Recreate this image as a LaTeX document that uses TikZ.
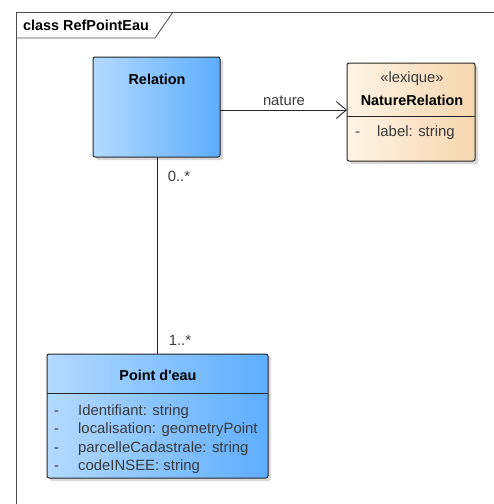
\documentclass[tikz,border=0pt]{standalone}
\usepackage{fontspec}
\setmainfont{Liberation Sans}
\usetikzlibrary{arrows.meta,shadows}
\definecolor{blueA}{HTML}{B3DAFF}
\definecolor{blueB}{HTML}{5EADFF}
\definecolor{beigeA}{HTML}{FEF4E6}
\definecolor{beigeB}{HTML}{F5D6AE}
\definecolor{txt}{HTML}{3A3A3A}
\tikzset{
  classbox/.style={draw=black!85, line width=1pt, rounded corners=2pt,
    drop shadow={shadow xshift=3pt, shadow yshift=-3pt, fill=black!25, opacity=0.6}},
  bluefill/.style={left color=blueA, right color=blueB},
  beigefill/.style={left color=beigeA, right color=beigeB},
  lbl/.style={font=\fontsize{14.8}{17}\selectfont, text=txt, inner sep=0pt},
  ttl/.style={font=\fontsize{14.4}{17}\selectfont\bfseries, inner sep=0pt},
  attr/.style={font=\fontsize{14.9}{17}\selectfont, text=txt, inner sep=0pt, anchor=base west},
  conn/.style={draw=black!85, line width=0.9pt},
}
\begin{document}
\begin{tikzpicture}[x=1pt,y=-1pt]
\useasboundingbox (0,0) rectangle (494,504);
% diagram frame and title tab
\draw[black!70, line width=0.8pt] (16,504) -- (16,12) -- (494,12);
\draw[black!70, line width=0.8pt] (16,38) -- (155,38) -- (173,12);
\node[ttl, anchor=west] (frame) at (23,25) {class RefPointEau};

% class Relation
\path[classbox, bluefill] (93,57) rectangle (220,157);
\node[ttl] (relT) at (157,79) {Relation};
\coordinate (relE) at (220,110);
\coordinate (relS) at (157,157);

% class NatureRelation
\path[classbox, beigefill] (347,63) rectangle (475,161);
\draw[black!85, line width=0.9pt] (347,116) -- (475,116);
\node[lbl] (natS) at (412,79) {«lexique»};
\node[ttl] (natT) at (412,100) {NatureRelation};
\node[attr] (natA1) at (355,136) {-\hspace{17pt}label: string};
\coordinate (natW) at (347,110);

% class Point d'eau
\path[classbox, bluefill] (47,354) rectangle (268,478);
\draw[black!85, line width=0.9pt] (47,393) -- (268,393);
\node[ttl] (ptT) at (158,375) {Point d\textquotesingle eau};
\node[attr] (ptA1) at (54,415) {-\hspace{19pt}Identifiant: string};
\node[attr] (ptA2) at (54,433) {-\hspace{19pt}localisation: geometryPoint};
\node[attr] (ptA3) at (54,452) {-\hspace{19pt}parcelleCadastrale: string};
\node[attr] (ptA4) at (54,470) {-\hspace{19pt}codeINSEE: string};
\coordinate (ptN) at (157,354);

% associations
\draw[conn, -{Straight Barb[length=10pt, width=17pt, line width=0.9pt]}] (relE) -- (natW);
\node[lbl] (natLbl) at (284,101) {nature};
\draw[conn] (relS) -- (ptN);
\node[lbl] (m1) at (179,176) {0..*};
\node[lbl] (m2) at (180,340) {1..*};
\end{tikzpicture}
\end{document}
